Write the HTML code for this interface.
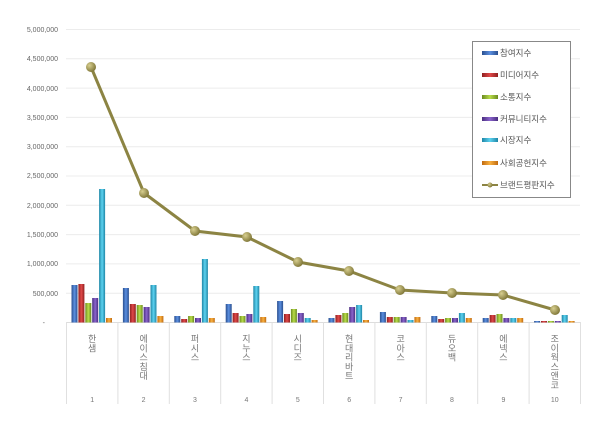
<!DOCTYPE html>
<html><head><meta charset="utf-8"><style>
body{margin:0;background:#fff;}
svg{display:block;font-family:"Liberation Sans","Noto Sans CJK KR",sans-serif;}
</style></head><body>
<svg width="600" height="424" xmlns="http://www.w3.org/2000/svg">
<defs>
<linearGradient id="g0" x1="0" x2="1"><stop offset="0" stop-color="#2a4f8f"/><stop offset=".5" stop-color="#5b8fe0"/><stop offset="1" stop-color="#2a4f8f"/></linearGradient>
<linearGradient id="g1" x1="0" x2="1"><stop offset="0" stop-color="#8f2020"/><stop offset=".5" stop-color="#e04848"/><stop offset="1" stop-color="#8f2020"/></linearGradient>
<linearGradient id="g2" x1="0" x2="1"><stop offset="0" stop-color="#6a8a20"/><stop offset=".5" stop-color="#b8dc48"/><stop offset="1" stop-color="#6a8a20"/></linearGradient>
<linearGradient id="g3" x1="0" x2="1"><stop offset="0" stop-color="#4a2e80"/><stop offset=".5" stop-color="#8a64cc"/><stop offset="1" stop-color="#4a2e80"/></linearGradient>
<linearGradient id="g4" x1="0" x2="1"><stop offset="0" stop-color="#1f86a6"/><stop offset=".5" stop-color="#5cd2f0"/><stop offset="1" stop-color="#1f86a6"/></linearGradient>
<linearGradient id="g5" x1="0" x2="1"><stop offset="0" stop-color="#c06a10"/><stop offset=".5" stop-color="#f8b040"/><stop offset="1" stop-color="#c06a10"/></linearGradient>
<radialGradient id="mk" cx=".35" cy=".35" r=".7"><stop offset="0" stop-color="#d8cf90"/><stop offset="1" stop-color="#7d7435"/></radialGradient>
</defs>
<g stroke="#ececec" stroke-width="1">
<line x1="66" x2="580" y1="29.5" y2="29.5"/><line x1="66" x2="580" y1="58.8" y2="58.8"/><line x1="66" x2="580" y1="88.1" y2="88.1"/><line x1="66" x2="580" y1="117.4" y2="117.4"/><line x1="66" x2="580" y1="146.7" y2="146.7"/><line x1="66" x2="580" y1="176" y2="176"/><line x1="66" x2="580" y1="205.3" y2="205.3"/><line x1="66" x2="580" y1="234.6" y2="234.6"/><line x1="66" x2="580" y1="263.9" y2="263.9"/><line x1="66" x2="580" y1="293.2" y2="293.2"/>
</g>
<line x1="66" x2="580" y1="322.5" y2="322.5" stroke="#ddd"/>
<g stroke="#e0e0e0"><line x1="66.5" x2="66.5" y1="322" y2="404"/><line x1="117.9" x2="117.9" y1="322" y2="404"/><line x1="169.3" x2="169.3" y1="322" y2="404"/><line x1="220.7" x2="220.7" y1="322" y2="404"/><line x1="272.1" x2="272.1" y1="322" y2="404"/><line x1="323.5" x2="323.5" y1="322" y2="404"/><line x1="374.9" x2="374.9" y1="322" y2="404"/><line x1="426.3" x2="426.3" y1="322" y2="404"/><line x1="477.7" x2="477.7" y1="322" y2="404"/><line x1="529.1" x2="529.1" y1="322" y2="404"/><line x1="580.5" x2="580.5" y1="322" y2="404"/></g>
<g font-size="7" fill="#666" text-anchor="end">
<text x="58" y="32">5,000,000</text><text x="58" y="61">4,500,000</text><text x="58" y="91">4,000,000</text><text x="58" y="120">3,500,000</text><text x="58" y="149">3,000,000</text><text x="58" y="178">2,500,000</text><text x="58" y="208">2,000,000</text><text x="58" y="237">1,500,000</text><text x="58" y="266">1,000,000</text><text x="58" y="296">500,000</text><text x="45" y="325">-</text>
</g>
<g fill="url(#g0)">
<rect x="71.5" y="285" width="6" height="37.5"/><rect x="122.9" y="288" width="6" height="34.5"/><rect x="174.3" y="316" width="6" height="6.5"/><rect x="225.7" y="304" width="6" height="18.5"/><rect x="277.1" y="301" width="6" height="21.5"/><rect x="328.5" y="318" width="6" height="4.5"/><rect x="379.9" y="312" width="6" height="10.5"/><rect x="431.3" y="316" width="6" height="6.5"/><rect x="482.7" y="318" width="6" height="4.5"/><rect x="534.1" y="321" width="6" height="1.5"/>
</g>
<g fill="url(#g1)">
<rect x="78.4" y="284" width="6" height="38.5"/><rect x="129.8" y="304" width="6" height="18.5"/><rect x="181.2" y="319" width="6" height="3.5"/><rect x="232.6" y="313" width="6" height="9.5"/><rect x="284" y="314" width="6" height="8.5"/><rect x="335.4" y="315" width="6" height="7.5"/><rect x="386.8" y="317" width="6" height="5.5"/><rect x="438.2" y="319" width="6" height="3.5"/><rect x="489.6" y="315" width="6" height="7.5"/><rect x="541" y="321" width="6" height="1.5"/>
</g>
<g fill="url(#g2)">
<rect x="85.3" y="303" width="6" height="19.5"/><rect x="136.7" y="305" width="6" height="17.5"/><rect x="188.1" y="316" width="6" height="6.5"/><rect x="239.5" y="316" width="6" height="6.5"/><rect x="290.9" y="309" width="6" height="13.5"/><rect x="342.3" y="313" width="6" height="9.5"/><rect x="393.7" y="317" width="6" height="5.5"/><rect x="445.1" y="318" width="6" height="4.5"/><rect x="496.5" y="314" width="6" height="8.5"/><rect x="547.9" y="321" width="6" height="1.5"/>
</g>
<g fill="url(#g3)">
<rect x="92.2" y="298" width="6" height="24.5"/><rect x="143.6" y="307" width="6" height="15.5"/><rect x="195" y="318" width="6" height="4.5"/><rect x="246.4" y="314" width="6" height="8.5"/><rect x="297.8" y="313" width="6" height="9.5"/><rect x="349.2" y="307" width="6" height="15.5"/><rect x="400.6" y="317" width="6" height="5.5"/><rect x="452" y="318" width="6" height="4.5"/><rect x="503.4" y="318" width="6" height="4.5"/><rect x="554.8" y="321" width="6" height="1.5"/>
</g>
<g fill="url(#g4)">
<rect x="99.1" y="189" width="6" height="133.5"/><rect x="150.5" y="285" width="6" height="37.5"/><rect x="201.9" y="259" width="6" height="63.5"/><rect x="253.3" y="286" width="6" height="36.5"/><rect x="304.7" y="318" width="6" height="4.5"/><rect x="356.1" y="305" width="6" height="17.5"/><rect x="407.5" y="320" width="6" height="2.5"/><rect x="458.9" y="313" width="6" height="9.5"/><rect x="510.3" y="318" width="6" height="4.5"/><rect x="561.7" y="315" width="6" height="7.5"/>
</g>
<g fill="url(#g5)">
<rect x="106" y="318" width="6" height="4.5"/><rect x="157.4" y="316" width="6" height="6.5"/><rect x="208.8" y="318" width="6" height="4.5"/><rect x="260.2" y="317" width="6" height="5.5"/><rect x="311.6" y="320" width="6" height="2.5"/><rect x="363" y="320" width="6" height="2.5"/><rect x="414.4" y="317" width="6" height="5.5"/><rect x="465.8" y="318" width="6" height="4.5"/><rect x="517.2" y="318" width="6" height="4.5"/><rect x="568.6" y="321" width="6" height="1.5"/>
</g>
<polyline points="91,67 144,193 195,231 247,237 298,262 349,271 400,290 452,293 503,295 555,310" fill="none" stroke="#8c8443" stroke-width="3"/>
<g fill="url(#mk)"><circle cx="91" cy="67" r="5"/><circle cx="144" cy="193" r="5"/><circle cx="195" cy="231" r="5"/><circle cx="247" cy="237" r="5"/><circle cx="298" cy="262" r="5"/><circle cx="349" cy="271" r="5"/><circle cx="400" cy="290" r="5"/><circle cx="452" cy="293" r="5"/><circle cx="503" cy="295" r="5"/><circle cx="555" cy="310" r="5"/></g>
<g font-size="9" fill="#777" text-anchor="middle">
<text y="342"><tspan x="92.2">한</tspan><tspan x="92.2" dy="9.3">샘</tspan></text>
<text y="342"><tspan x="143.6">에</tspan><tspan x="143.6" dy="9.3">이</tspan><tspan x="143.6" dy="9.3">스</tspan><tspan x="143.6" dy="9.3">침</tspan><tspan x="143.6" dy="9.3">대</tspan></text>
<text y="342"><tspan x="195">퍼</tspan><tspan x="195" dy="9.3">시</tspan><tspan x="195" dy="9.3">스</tspan></text>
<text y="342"><tspan x="246.4">지</tspan><tspan x="246.4" dy="9.3">누</tspan><tspan x="246.4" dy="9.3">스</tspan></text>
<text y="342"><tspan x="297.8">시</tspan><tspan x="297.8" dy="9.3">디</tspan><tspan x="297.8" dy="9.3">즈</tspan></text>
<text y="342"><tspan x="349.2">현</tspan><tspan x="349.2" dy="9.3">대</tspan><tspan x="349.2" dy="9.3">리</tspan><tspan x="349.2" dy="9.3">바</tspan><tspan x="349.2" dy="9.3">트</tspan></text>
<text y="342"><tspan x="400.6">코</tspan><tspan x="400.6" dy="9.3">아</tspan><tspan x="400.6" dy="9.3">스</tspan></text>
<text y="342"><tspan x="452">듀</tspan><tspan x="452" dy="9.3">오</tspan><tspan x="452" dy="9.3">백</tspan></text>
<text y="342"><tspan x="503.4">에</tspan><tspan x="503.4" dy="9.3">넥</tspan><tspan x="503.4" dy="9.3">스</tspan></text>
<text y="342"><tspan x="554.8">조</tspan><tspan x="554.8" dy="9.3">이</tspan><tspan x="554.8" dy="9.3">웍</tspan><tspan x="554.8" dy="9.3">스</tspan><tspan x="554.8" dy="9.3">앤</tspan><tspan x="554.8" dy="9.3">코</tspan></text>
</g>
<g font-size="7" fill="#777" text-anchor="middle">
<text x="92.2" y="402">1</text><text x="143.6" y="402">2</text><text x="195" y="402">3</text><text x="246.4" y="402">4</text><text x="297.8" y="402">5</text><text x="349.2" y="402">6</text><text x="400.6" y="402">7</text><text x="452" y="402">8</text><text x="503.4" y="402">9</text><text x="554.8" y="402">10</text>
</g>
<rect x="472.5" y="41.5" width="98" height="156" fill="#fff" stroke="#888"/>
<g font-size="8.5" fill="#555">
<rect x="482" y="51" width="16" height="4" fill="url(#g0)"/><text x="500" y="56">참여지수</text>
<rect x="482" y="73" width="16" height="4" fill="url(#g1)"/><text x="500" y="78">미디어지수</text>
<rect x="482" y="95" width="16" height="4" fill="url(#g2)"/><text x="500" y="100">소통지수</text>
<rect x="482" y="117" width="16" height="4" fill="url(#g3)"/><text x="500" y="122">커뮤니티지수</text>
<rect x="482" y="138" width="16" height="4" fill="url(#g4)"/><text x="500" y="143">시장지수</text>
<rect x="482" y="161" width="16" height="4" fill="url(#g5)"/><text x="500" y="166">사회공헌지수</text>
<line x1="482" x2="498" y1="185" y2="185" stroke="#8c8443" stroke-width="2"/><circle cx="490" cy="185" r="2.5" fill="url(#mk)"/><text x="500" y="188">브랜드평판지수</text>
</g>
</svg>
</body></html>
